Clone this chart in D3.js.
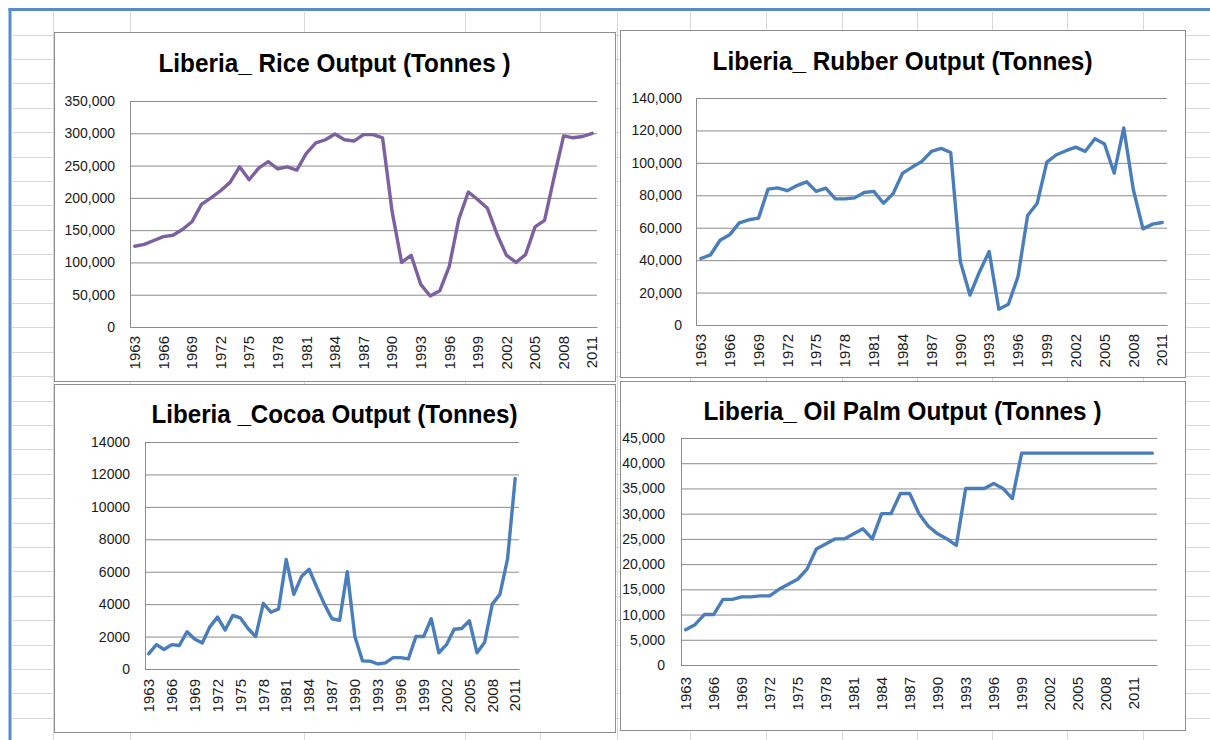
<!DOCTYPE html>
<html><head><meta charset="utf-8">
<script src="https://cdn.jsdelivr.net/npm/d3@7"></script>
<style>
html,body{margin:0;padding:0;background:#fff;}
svg{display:block;}
text{font-family:"Liberation Sans",Arial,sans-serif;}
</style></head><body>
<svg id="c" width="1210" height="740"></svg>
<script>
// ---------- DATA ----------
const years = [1963,1964,1965,1966,1967,1968,1969,1970,1971,1972,1973,1974,1975,1976,1977,1978,1979,1980,1981,1982,1983,1984,1985,1986,1987,1988,1989,1990,1991,1992,1993,1994,1995,1996,1997,1998,1999,2000,2001,2002,2003,2004,2005,2006,2007,2008,2009,2010,2011,2012,2013];
const xTickYears = [1963,1966,1969,1972,1975,1978,1981,1984,1987,1990,1993,1996,1999,2002,2005,2008,2011];

const riceValues = [125000,128000,134000,140000,142000,151000,163000,190000,200000,211000,224000,248000,228000,246000,256000,245000,248000,243000,269000,285000,290000,299000,290000,288000,298000,298000,293000,179000,100000,111000,66000,48000,56000,94000,167000,209000,197000,184000,144000,111000,100000,112000,155000,165000,232000,296000,293000,295000,300000];
const rubberValues = [41000,43200,52300,55600,63000,64900,65900,83800,84600,82800,86000,88300,82400,84400,77800,77800,78400,81700,82400,75100,80900,93700,97400,100900,107100,108900,106400,39100,18500,32900,45300,9700,12800,29900,67500,75100,100500,105000,107500,109700,107100,114900,111600,93700,121500,83400,59300,62200,63200];
const cocoaValues = [950,1500,1200,1500,1450,2300,1850,1600,2600,3200,2400,3300,3150,2500,2000,4050,3500,3700,6750,4600,5700,6150,5050,4000,3100,3000,6000,2000,500,480,310,380,700,700,620,2000,2000,3100,1000,1500,2450,2500,2980,1000,1650,4000,4600,6800,11750];
const palmValues = [7000,8000,10000,10000,13000,13000,13500,13500,13700,13700,15000,16000,17000,19000,23000,24000,25000,25000,26000,27000,25000,30000,30000,34000,34000,30000,27500,26000,25000,23700,35000,35000,35000,36000,35000,33000,42000,42000,42000,42000,42000,42000,42000,42000,42000,42000,42000,42000,42000,42000,42000];

const riceTicks = [0,50000,100000,150000,200000,250000,300000,350000];
const rubberTicks = [0,20000,40000,60000,80000,100000,120000,140000];
const cocoaTicks = [0,2000,4000,6000,8000,10000,12000,14000];
const palmTicks = [0,5000,10000,15000,20000,25000,30000,35000,40000,45000];

const titles = ["Liberia_ Rice Output (Tonnes )","Liberia_ Rubber Output (Tonnes)","Liberia _Cocoa Output (Tonnes)","Liberia_ Oil Palm Output (Tonnes )"];

// ---------- LAYOUT ----------
const svg = d3.select("#c");
const GRID = "#d9d9d9", AXIS = "#8c8c8c";

const colX = [53,130,304,465,540,617,690,766,842,917,992,1067,1143];
const rowY = d3.range(0, 30).map(k => 34.6 + 24.4*k).filter(v => v < 740);
svg.append("g").selectAll("line.r").data(rowY).join("line")
  .attr("x1",12).attr("x2",1210).attr("y1",d=>Math.round(d)+0.5).attr("y2",d=>Math.round(d)+0.5)
  .attr("stroke",GRID).attr("stroke-width",1);
svg.append("g").selectAll("line.c").data(colX).join("line")
  .attr("y1",12).attr("y2",740).attr("x1",d=>d+0.5).attr("x2",d=>d+0.5)
  .attr("stroke",GRID).attr("stroke-width",1);
svg.append("rect").attr("x",8.5).attr("y",8).attr("width",1202).attr("height",3).attr("fill","#5a8ad0");
svg.append("rect").attr("x",8.5).attr("y",8).attr("width",3).attr("height",732).attr("fill","#5a8ad0");

const charts = [
  {title:titles[0], cats:years.slice(0,49), values:riceValues, ticks:riceTicks, fmt:d3.format(","), color:"#7d60a0",
   box:[54,32,615,381], plot:[130,101,597,327], titleY:72, titleW:352, pad:15, gap:9},
  {title:titles[1], cats:years.slice(0,49), values:rubberValues, ticks:rubberTicks, fmt:d3.format(","), color:"#4a7ebb",
   box:[620,30,1185,377], plot:[696,98,1167,325], titleY:70, titleW:380, pad:14, gap:9},
  {title:titles[2], cats:years.slice(0,49), values:cocoaValues, ticks:cocoaTicks, fmt:d3.format("d"), color:"#4a7ebb",
   box:[54,384,615,732], plot:[145,442,519,669], titleY:423, titleW:366, pad:15, gap:10},
  {title:titles[3], cats:years, values:palmValues, ticks:palmTicks, fmt:d3.format(","), color:"#4a7ebb",
   box:[620,381,1185,730], plot:[681,438,1157,665], titleY:420, titleW:398, pad:16, gap:12}
];

charts.forEach(c => {
  const [bx0,by0,bx1,by1] = c.box;
  const [pl,pt,pr,pb] = c.plot;
  const g = svg.append("g");
  g.append("rect").attr("x",bx0+0.5).attr("y",by0+0.5).attr("width",bx1-bx0).attr("height",by1-by0)
    .attr("fill","#fff").attr("stroke","#8e8e8e").attr("stroke-width",1);

  g.append("text").attr("x",(bx0+bx1)/2).attr("y",c.titleY).attr("text-anchor","middle")
    .attr("font-weight","bold").attr("font-size",26).attr("fill","#000")
    .attr("textLength",c.titleW).attr("lengthAdjust","spacingAndGlyphs").text(c.title);

  const x = d3.scaleBand().domain(c.cats).range([pl,pr]).padding(0);
  const y = d3.scaleLinear().domain([0, c.ticks[c.ticks.length-1]]).range([pb,pt]);

  g.append("g").attr("transform",`translate(${pl},0)`)
    .call(d3.axisLeft(y).tickValues(c.ticks).tickSize(-(pr-pl)).tickFormat(""))
    .call(a => { a.select(".domain").remove(); a.selectAll("line").attr("stroke",AXIS); });

  g.append("g").attr("transform",`translate(${pl},0)`)
    .call(d3.axisLeft(y).tickValues(c.ticks).tickSize(0).tickPadding(c.pad).tickFormat(c.fmt))
    .call(a => {
      a.attr("font-family",null).attr("font-size",null);
      a.select(".domain").attr("stroke",AXIS);
      a.selectAll("text").attr("font-size",14).attr("fill","#1a1a1a");
    });

  g.append("g").attr("transform",`translate(0,${pb})`)
    .call(d3.axisBottom(x).tickValues(xTickYears).tickSize(0))
    .call(a => {
      a.attr("font-family",null).attr("font-size",null);
      a.select(".domain").attr("stroke",AXIS);
      a.selectAll("text").attr("font-size",15).attr("fill","#1a1a1a")
        .attr("transform","rotate(-90)").attr("x",-c.gap).attr("y",0).attr("dy","0.35em")
        .attr("text-anchor","end");
    });

  const line = d3.line()
    .x((d,i) => x(c.cats[i]) + x.bandwidth()/2)
    .y(d => y(d));
  g.append("path").datum(c.values).attr("d",line)
    .attr("fill","none").attr("stroke",c.color).attr("stroke-width",3.4)
    .attr("stroke-linejoin","round").attr("stroke-linecap","round");
});
</script>
</body></html>
